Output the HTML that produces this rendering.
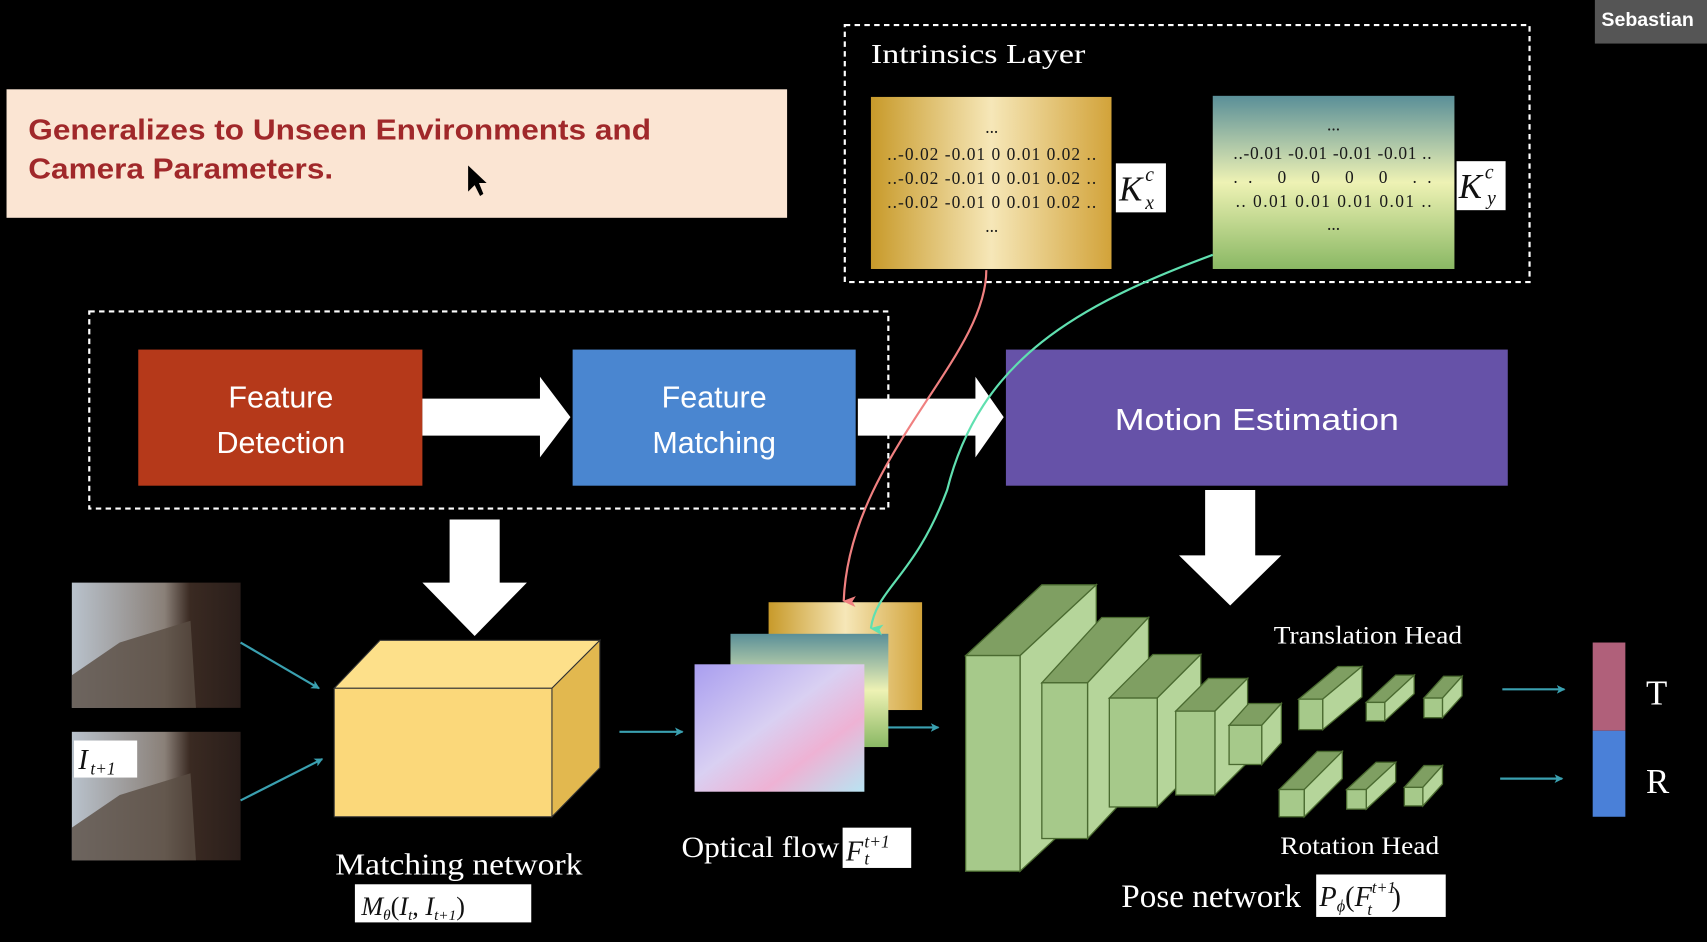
<!DOCTYPE html>
<html><head><meta charset="utf-8"><style>
html,body{margin:0;padding:0;background:#000;width:1707px;height:942px;overflow:hidden}
svg{display:block}
.s{font-family:"Liberation Serif",serif;fill:#fff}
.m{font-family:"Liberation Serif",serif;fill:#111;font-style:italic}
.n{font-family:"Liberation Serif",serif;fill:#1a1a1a;font-size:16px}
.b{font-family:"Liberation Sans",sans-serif;fill:#fff;font-size:28px}
</style></head><body>
<svg width="1707" height="942" viewBox="0 0 1568 865" preserveAspectRatio="none">
<defs>
<linearGradient id="gold" x1="0" x2="1" y1="0" y2="0"><stop offset="0" stop-color="#c89a2a"/><stop offset="0.5" stop-color="#f6e7b8"/><stop offset="1" stop-color="#d2a33a"/></linearGradient>
<linearGradient id="gy" x1="0" x2="0" y1="0" y2="1"><stop offset="0" stop-color="#5a8f98"/><stop offset="0.5" stop-color="#eef2b4"/><stop offset="1" stop-color="#8ab864"/></linearGradient>
<linearGradient id="flow" x1="0" x2="1" y1="0" y2="1"><stop offset="0" stop-color="#a99ef0"/><stop offset="0.45" stop-color="#d9d0f2"/><stop offset="0.7" stop-color="#eeb2d4"/><stop offset="1" stop-color="#b8e4f2"/></linearGradient>
<linearGradient id="photo" x1="0" x2="1" y1="0" y2="0"><stop offset="0" stop-color="#b9c2cc"/><stop offset="0.55" stop-color="#8a8078"/><stop offset="0.7" stop-color="#3a2a22"/><stop offset="1" stop-color="#2a1e1a"/></linearGradient>
<marker id="ah" markerWidth="8" markerHeight="8" refX="7" refY="4" orient="auto" markerUnits="userSpaceOnUse"><path d="M0,0 L8,4 L0,8 L2,4z" fill="#3aa0b0"/></marker>
<marker id="ap" markerWidth="10" markerHeight="12" refX="5" refY="11" orient="auto" markerUnits="userSpaceOnUse"><path d="M0,0 L5,12 L10,0 L5,3z" fill="#f08080"/></marker>
<marker id="at" markerWidth="10" markerHeight="12" refX="5" refY="11" orient="auto" markerUnits="userSpaceOnUse"><path d="M0,0 L5,12 L10,0 L5,3z" fill="#60e0b0"/></marker>
</defs>
<rect width="1568" height="865" fill="#000"/>
<rect x="1465" y="0" width="103" height="40" fill="#555"/>
<text x="1471" y="24" font-family="Liberation Sans,sans-serif" font-weight="bold" font-size="18" fill="#fff">Sebastian</text>
<rect x="6" y="82" width="717" height="118" fill="#fbe5d3"/>
<text x="26" y="128" font-family="Liberation Sans,sans-serif" font-weight="bold" font-size="26" fill="#a0282a" textLength="572" lengthAdjust="spacingAndGlyphs">Generalizes to Unseen Environments and</text>
<text x="26" y="164" font-family="Liberation Sans,sans-serif" font-weight="bold" font-size="26" fill="#a0282a" textLength="280" lengthAdjust="spacingAndGlyphs">Camera Parameters.</text>
<path d="M430,152 L430,176 L436,170 L441,180 L444,178 L440,168 L447,168z" fill="#000"/>
<rect x="776" y="23" width="629" height="236" fill="none" stroke="#fff" stroke-width="2" stroke-dasharray="5,4"/>
<text x="800" y="58" class="s" font-size="25" textLength="197" lengthAdjust="spacingAndGlyphs">Intrinsics Layer</text>
<rect x="800" y="89" width="221" height="158" fill="url(#gold)"/>
<g class="n" xml:space="preserve"><text x="905" y="122">...</text><text x="815" y="147" textLength="192" lengthAdjust="spacing">..-0.02 -0.01  0  0.01 0.02 ..</text><text x="815" y="169" textLength="192" lengthAdjust="spacing">..-0.02 -0.01  0  0.01 0.02 ..</text><text x="815" y="191" textLength="192" lengthAdjust="spacing">..-0.02 -0.01  0  0.01 0.02 ..</text><text x="905" y="213">...</text></g>
<rect x="1025" y="150" width="46" height="45" fill="#fff"/>
<text x="1028" y="184" class="m" font-size="32">K</text><text x="1052" y="166" class="m" font-size="18">c</text><text x="1052" y="192" class="m" font-size="18">x</text>
<rect x="1114" y="88" width="222" height="159" fill="url(#gy)"/>
<g class="n" xml:space="preserve"><text x="1219" y="120">...</text><text x="1133" y="146" textLength="182" lengthAdjust="spacing">..-0.01 -0.01 -0.01 -0.01 ..</text><text x="1133" y="168" textLength="182" lengthAdjust="spacing">..    0      0      0      0    ..</text><text x="1135" y="190" textLength="180" lengthAdjust="spacing">.. 0.01  0.01  0.01  0.01 ..</text><text x="1219" y="211">...</text></g>
<rect x="1338" y="148" width="45" height="45" fill="#fff"/>
<text x="1340" y="182" class="m" font-size="32">K</text><text x="1364" y="164" class="m" font-size="18">c</text><text x="1366" y="188" class="m" font-size="18">y</text>
<rect x="82" y="286" width="734" height="181" fill="none" stroke="#fff" stroke-width="2" stroke-dasharray="5,4"/>
<rect x="127" y="321" width="261" height="125" fill="#b5391a"/>
<text class="b" text-anchor="middle"><tspan x="258" y="374">Feature</tspan><tspan x="258" y="416">Detection</tspan></text>
<path d="M388,366 L496,366 L496,346 L524,383 L496,420 L496,400 L388,400z" fill="#fff"/>
<rect x="526" y="321" width="260" height="125" fill="#4a86d0"/>
<text class="b" text-anchor="middle"><tspan x="656" y="374">Feature</tspan><tspan x="656" y="416">Matching</tspan></text>
<path d="M788,366 L896,366 L896,346 L922,383 L896,420 L896,400 L788,400z" fill="#fff"/>
<rect x="924" y="321" width="461" height="125" fill="#6652a8"/>
<text class="b" x="1024" y="395" font-size="30" textLength="261" lengthAdjust="spacingAndGlyphs">Motion Estimation</text>
<path d="M1107,450 L1153,450 L1153,510 L1177,510 L1130,556 L1083,510 L1107,510z" fill="#fff"/>
<path d="M413,477 L459,477 L459,535 L484,535 L436,584 L388,535 L413,535z" fill="#fff"/>
<rect x="66" y="535" width="155" height="115" fill="url(#photo)"/>
<path d="M66,620 L110,590 L175,570 L180,650 L66,650z" fill="#5a4d44" opacity="0.8"/>
<rect x="66" y="672" width="155" height="118" fill="url(#photo)"/>
<path d="M66,760 L110,730 L175,710 L180,790 L66,790z" fill="#5a4d44" opacity="0.8"/>
<rect x="68" y="680" width="58" height="34" fill="#fff"/>
<text x="72" y="706" class="m" font-size="26">I</text><text x="83" y="711" class="m" font-size="16">t+1</text>
<g stroke="#3aa0b0" stroke-width="2" fill="none" marker-end="url(#ah)">
<line x1="221" y1="590" x2="293" y2="632"/><line x1="221" y1="735" x2="296" y2="697"/>
<line x1="569" y1="672" x2="627" y2="672"/><line x1="804" y1="668" x2="862" y2="668"/>
<line x1="1380" y1="633" x2="1437" y2="633"/><line x1="1378" y1="715" x2="1435" y2="715"/>
</g>
<polygon points="307,632 349,588 551,588 507,632" fill="#fde08a" stroke="#333" stroke-width="1"/>
<polygon points="507,632 551,588 551,705 507,750" fill="#e2b84f" stroke="#333" stroke-width="1"/>
<rect x="307" y="632" width="200" height="118" fill="#fbd87a" stroke="#333" stroke-width="1"/>
<text x="308" y="803" class="s" font-size="28" textLength="227" lengthAdjust="spacingAndGlyphs">Matching network</text>
<rect x="326" y="812" width="162" height="35" fill="#fff"/>
<text x="332" y="840" class="m" font-size="24">M<tspan font-size="14" dy="5">θ</tspan><tspan dy="-5" font-style="normal">(</tspan>I<tspan font-size="14" dy="5">t</tspan><tspan dy="-5" font-style="normal">, </tspan>I<tspan font-size="14" dy="5">t+1</tspan><tspan dy="-5" font-style="normal">)</tspan></text>
<rect x="706" y="553" width="141" height="99" fill="url(#gold)"/>
<rect x="671" y="582" width="145" height="104" fill="url(#gy)"/>
<rect x="638" y="610" width="156" height="117" fill="url(#flow)"/>
<text x="626" y="787" class="s" font-size="27" textLength="145" lengthAdjust="spacingAndGlyphs">Optical flow</text>
<rect x="774" y="760" width="63" height="37" fill="#fff"/>
<text x="777" y="790" class="m" font-size="26">F</text><text x="794" y="778" class="m" font-size="16">t+1</text><text x="794" y="794" class="m" font-size="16">t</text>
<path d="M906,248 C906,330 780,420 775,552" fill="none" stroke="#f08080" stroke-width="2" marker-end="url(#ap)"/>
<path d="M1114,234 C990,280 900,330 870,450 C840,530 805,540 800,577" fill="none" stroke="#60e0b0" stroke-width="2" marker-end="url(#at)"/>
<g stroke="#4a6a30" stroke-width="1.2">
<polygon points="887,602 957,537 1007,537 937,602" fill="#7f9f62"/><polygon points="937,602 1007,537 1007,735 937,800" fill="#b5d59a"/><rect x="887" y="602" width="50" height="198" fill="#a6c98a"/>
<polygon points="957,627 1012,567 1055,567 999,627" fill="#7f9f62"/><polygon points="999,627 1055,567 1055,710 999,770" fill="#b5d59a"/><rect x="957" y="627" width="42" height="143" fill="#a6c98a"/>
<polygon points="1019,641 1059,601 1103,601 1063,641" fill="#7f9f62"/><polygon points="1063,641 1103,601 1103,701 1063,741" fill="#b5d59a"/><rect x="1019" y="641" width="44" height="100" fill="#a6c98a"/>
<polygon points="1080,653 1110,623 1146,623 1116,653" fill="#7f9f62"/><polygon points="1116,653 1146,623 1146,700 1116,730" fill="#b5d59a"/><rect x="1080" y="653" width="36" height="77" fill="#a6c98a"/>
<polygon points="1129,666 1147,646 1177,646 1159,666" fill="#7f9f62"/><polygon points="1159,666 1177,646 1177,682 1159,702" fill="#b5d59a"/><rect x="1129" y="666" width="30" height="36" fill="#a6c98a"/>
<polygon points="1193,642 1229,612 1251,612 1215,642" fill="#7f9f62"/><polygon points="1215,642 1251,612 1251,640 1215,670" fill="#b5d59a"/><rect x="1193" y="642" width="22" height="28" fill="#a6c98a"/>
<polygon points="1255,645 1282,620 1299,620 1272,645" fill="#7f9f62"/><polygon points="1272,645 1299,620 1299,637 1272,662" fill="#b5d59a"/><rect x="1255" y="645" width="17" height="17" fill="#a6c98a"/>
<polygon points="1308,641 1326,621 1343,621 1325,641" fill="#7f9f62"/><polygon points="1325,641 1343,621 1343,639 1325,659" fill="#b5d59a"/><rect x="1308" y="641" width="17" height="18" fill="#a6c98a"/>
<polygon points="1175,725 1210,690 1233,690 1198,725" fill="#7f9f62"/><polygon points="1198,725 1233,690 1233,715 1198,750" fill="#b5d59a"/><rect x="1175" y="725" width="23" height="25" fill="#a6c98a"/>
<polygon points="1237,725 1264,700 1282,700 1255,725" fill="#7f9f62"/><polygon points="1255,725 1282,700 1282,718 1255,743" fill="#b5d59a"/><rect x="1237" y="725" width="18" height="18" fill="#a6c98a"/>
<polygon points="1290,723 1308,703 1325,703 1307,723" fill="#7f9f62"/><polygon points="1307,723 1325,703 1325,720 1307,740" fill="#b5d59a"/><rect x="1290" y="723" width="17" height="17" fill="#a6c98a"/>
</g>
<text x="1170" y="591" class="s" font-size="23" textLength="173" lengthAdjust="spacingAndGlyphs">Translation Head</text>
<text x="1176" y="784" class="s" font-size="23" textLength="146" lengthAdjust="spacingAndGlyphs">Rotation Head</text>
<text x="1030" y="833" class="s" font-size="30" textLength="165" lengthAdjust="spacingAndGlyphs">Pose network</text>
<rect x="1209" y="803" width="119" height="39" fill="#fff"/>
<text x="1212" y="832" class="m" font-size="26">P<tspan font-size="15" dy="5">ϕ</tspan><tspan dy="-5" font-style="normal">(</tspan>F<tspan font-size="15" dy="-12">t+1</tspan><tspan font-size="15" dx="-26" dy="20">t</tspan><tspan dx="18" dy="-8" font-style="normal">)</tspan></text>
<rect x="1463" y="590" width="30" height="81" fill="#b0607a"/>
<rect x="1463" y="671" width="30" height="79" fill="#4a80d8"/>
<text x="1512" y="647" class="s" font-size="32">T</text>
<text x="1512" y="728" class="s" font-size="32">R</text>
</svg>
</body></html>
